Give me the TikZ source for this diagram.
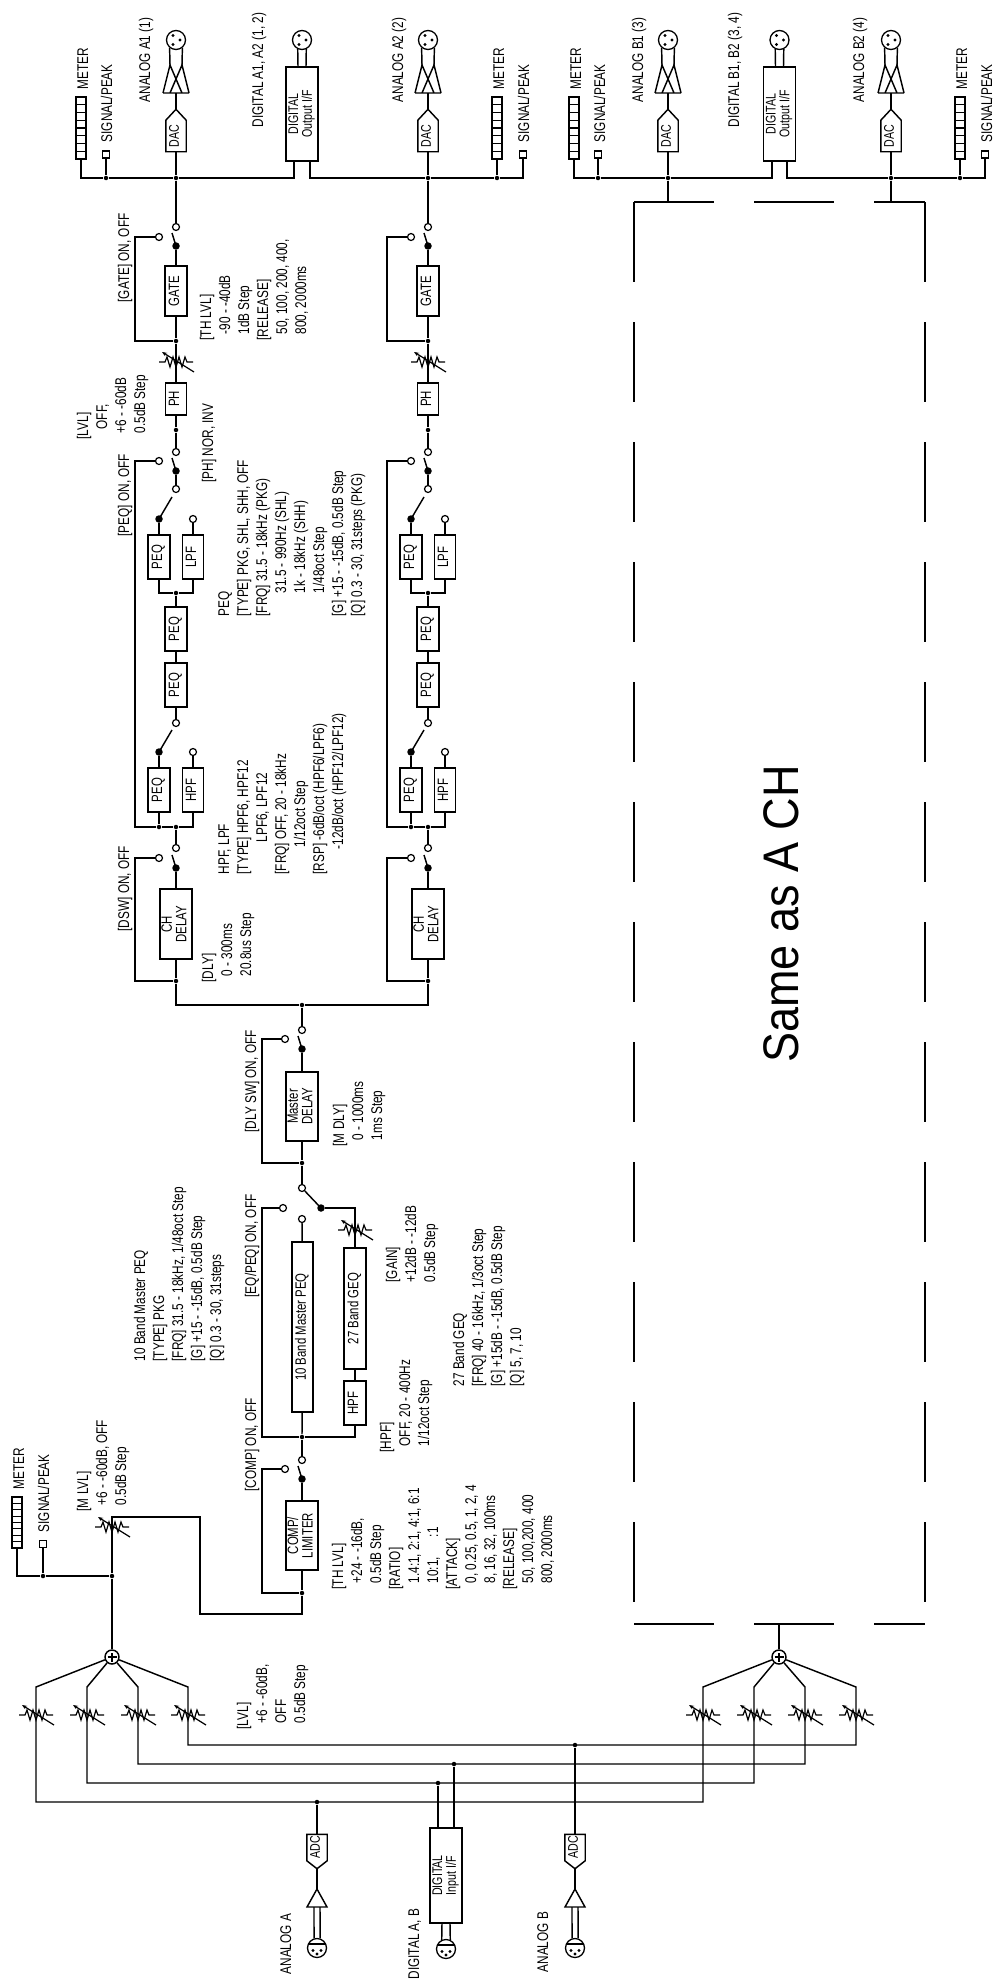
\documentclass[tikz,border=0pt]{standalone}
\usepackage{fontspec}
\usepackage{graphicx}
\setmainfont{Liberation Sans}[FakeStretch=0.76]
\newfontfamily\bigsans{Liberation Sans}[FakeStretch=0.9]
\usetikzlibrary{arrows.meta,calc}

\newcommand{\prmfont}{\fontsize{15.5}{19}\selectfont}
\newcommand{\boxfont}{\fontsize{15}{14}\selectfont}
\newcommand{\smfont}{\fontsize{14}{12}\selectfont}
\newcommand{\vtxt}[1]{\rotatebox{90}{\begin{tabular}{@{}l@{}}\relax#1\end{tabular}}}
\newcommand{\vlbl}[1]{\rotatebox{90}{\begin{tabular}{@{}c@{}}\relax#1\end{tabular}}}
\newcommand{\ind}{\hspace*{6pt}}

\tikzset{
  blk/.style={draw, fill=white, inner sep=0pt, font=\boxfont},
  prm/.style={inner sep=0pt, anchor=south west, font=\prmfont},
  opn/.style={circle, draw, fill=white, line width=1.2pt, inner sep=0pt, minimum size=7pt},
  piv/.style={circle, fill, inner sep=0pt, minimum size=7.5pt},
  jn/.style={circle, fill, inner sep=0pt, minimum size=4.5pt},
  sq/.style={draw, line width=1.2pt, inner sep=0pt, minimum size=7pt},
  mbar/.style={draw, line width=1.2pt, inner sep=0pt, minimum width=10pt,
    path picture={\foreach \i in {1,...,7}{\draw[line width=1.2pt]
      ($(path picture bounding box.north west)!\i/8!(path picture bounding box.south west)$) --
      ($(path picture bounding box.north east)!\i/8!(path picture bounding box.south east)$);}}},
  jack/.style={circle, draw, line width=1.3pt, inner sep=0pt, minimum size=19pt},
  sum/.style={circle, draw, fill=white, inner sep=0pt, minimum size=14pt},
  dsh/.style={dash pattern=on 80pt off 40pt},
  pics/fader/.style={code={
    \draw[line width=1.2pt] (-17,0) -- (-11,0) -- (-9,-5) -- (-6,5) -- (-3,-5) -- (0,5) -- (3,-5) -- (6,5) -- (9,-5) -- (11,0) -- (17,0);
    \draw[line width=1.2pt, -{Stealth[length=5pt,width=4pt]}] (18,10) -- (-14,-10);
  }},
}

\begin{document}
\begin{tikzpicture}[x=1pt, y=-1pt, line width=1.45pt]
\useasboundingbox (0,0) rectangle (997,1983);

% output stages
\foreach \cx/\cn in {176/c1, 428/c2, 668/b1, 891/b2}{
  \node[jack] (\cn-xlr) at (\cx,40) {};
  \fill ([shift={(-3,-4.5)}]\cn-xlr.center) circle (1.7) ([shift={(4,0)}]\cn-xlr.center) circle (1.7) ([shift={(-3,4.5)}]\cn-xlr.center) circle (1.7);
  \coordinate (\cn-amp) at (\cx,93);
  \draw (\cx-13,93) -- (\cx+13,93) (\cx-13,93) -- (\cx-6,65) -- (\cx+6,93) (\cx+13,93) -- (\cx+6,65) -- (\cx-6,93);
  \draw (\cn-xlr.-129) -- (\cx-6,65) (\cn-xlr.-51) -- (\cx+6,65);
  \node[blk, draw=none, minimum width=19pt, minimum height=30pt, font=\fontsize{14}{14}\selectfont] (\cn-dac) at (\cx,136) {\vlbl{DAC}};
  \draw (\cn-dac.south west) -- (\cn-dac.north west) -- ([yshift=11pt]\cn-dac.north) -- (\cn-dac.north east) -- (\cn-dac.south east) -- cycle;
  \draw ([yshift=11pt]\cn-dac.north) -- (\cn-amp);
  \node[jn] (\cn-jo) at (\cx,178) {};
  \draw (\cn-dac.south) -- (\cn-jo);
}

% A channel chains
\foreach \cx/\cn in {176/c1, 428/c2}{
  \node[opn] (\cn-go) at (\cx,227) {};
  \node[piv] (\cn-gp) at (\cx,246) {};
  \node[opn] (\cn-gb) at (\cx-17,237) {};
  \node[blk, minimum width=22pt, minimum height=50pt] (\cn-gate) at (\cx,291) {\vlbl{GATE}};
  \node[jn] (\cn-gj) at (\cx,341) {};
  \node[blk, minimum width=21pt, minimum height=32pt] (\cn-ph) at (\cx,399) {\vlbl{PH}};
  \node[jn] (\cn-phj) at (\cx,430) {};
  \node[opn] (\cn-po) at (\cx,452) {};
  \node[piv] (\cn-pp) at (\cx,471) {};
  \node[opn] (\cn-pb) at (\cx-17,461) {};
  \node[opn] (\cn-ls) at (\cx,489) {};
  \node[piv] (\cn-lsel) at (\cx-17,519) {};
  \node[opn] (\cn-lpfo) at (\cx+17,519) {};
  \node[blk, minimum width=22pt, minimum height=44pt] (\cn-peq4) at (\cx-17,557) {\vlbl{PEQ}};
  \node[blk, minimum width=21pt, minimum height=44pt] (\cn-lpf) at (\cx+17,557) {\vlbl{LPF}};
  \node[jn] (\cn-lj) at (\cx,593) {};
  \node[blk, minimum width=22pt, minimum height=44pt] (\cn-peq3) at (\cx,629) {\vlbl{PEQ}};
  \node[blk, minimum width=22pt, minimum height=44pt] (\cn-peq2) at (\cx,685) {\vlbl{PEQ}};
  \node[opn] (\cn-hs) at (\cx,723) {};
  \node[piv] (\cn-hsel) at (\cx-17,752) {};
  \node[opn] (\cn-hpfo) at (\cx+17,752) {};
  \node[blk, minimum width=22pt, minimum height=44pt] (\cn-peq1) at (\cx-17,790) {\vlbl{PEQ}};
  \node[blk, minimum width=21pt, minimum height=44pt] (\cn-hpf) at (\cx+17,790) {\vlbl{HPF}};
  \node[jn] (\cn-hj) at (\cx-17,827) {};
  \node[jn] (\cn-dj) at (\cx,827) {};
  \node[opn] (\cn-do) at (\cx,848) {};
  \node[piv] (\cn-dp) at (\cx,868) {};
  \node[opn] (\cn-db) at (\cx-17,858) {};
  \node[blk, minimum width=32pt, minimum height=70pt] (\cn-dly) at (\cx,924) {\vlbl{CH\\DELAY}};
  \node[jn] (\cn-dlj) at (\cx,981) {};
  % connectors
  \draw (\cn-jo) -- (\cn-go);
  \draw (\cn-gp.center) -- ++(-4,-13);
  \draw (\cn-gp) -- (\cn-gate);
  \draw (\cn-gb) -| ([xshift=-41pt]\cn-gj.center) -- (\cn-gj);
  \draw (\cn-gate) -- (\cn-gj) -- (\cn-ph);
  \pic at (\cx,362) {fader};
  \draw (\cn-ph) -- (\cn-phj) -- (\cn-po);
  \draw (\cn-pp.center) -- ++(-4,-13);
  \draw (\cn-pp) -- (\cn-ls);
  \draw (\cn-lsel.center) -- ++(13,-22);
  \draw (\cn-lsel) -- (\cn-peq4);
  \draw (\cn-lpfo) -- (\cn-lpf);
  \draw (\cn-peq4.south) |- (\cn-lj);
  \draw (\cn-lpf.south) |- (\cn-lj);
  \draw (\cn-lj) -- (\cn-peq3) -- (\cn-peq2) -- (\cn-hs);
  \draw (\cn-hsel.center) -- ++(13,-22);
  \draw (\cn-hsel) -- (\cn-peq1);
  \draw (\cn-hpfo) -- (\cn-hpf);
  \draw (\cn-peq1) -- (\cn-hj);
  \draw (\cn-hpf.south) |- (\cn-dj);
  \draw (\cn-pb) -| ([xshift=-24pt]\cn-hj.center) -- (\cn-hj) -- (\cn-dj) -- (\cn-do);
  \draw (\cn-dp.center) -- ++(-4,-13);
  \draw (\cn-dp) -- (\cn-dly) -- (\cn-dlj);
  \draw (\cn-db) -| ([xshift=-41pt]\cn-dlj.center) -- (\cn-dlj);
}

% A output bus
\node[mbar, minimum height=62pt] (aM1) at (81,128) {};
\node[sq] (aS1) at (106,154.5) {};
\node[jn] (aS1j) at (106,178) {};
\node[blk, minimum width=32pt, minimum height=94pt, font=\smfont] (aDig) at (302,114) {\vlbl{DIGITAL\\Output I/F}};
\node[jack] (aDx) at (302,40) {};
\node[jn] (aM2j) at (497,178) {};
\node[mbar, minimum height=62pt] (aM2) at (497,128) {};
\node[sq] (aS2) at (523,154.5) {};
\draw (aM1.south) |- (aS1j) -- (c1-jo) -| ([xshift=-8pt]aDig.south);
\draw (aS1) -- (aS1j);
\draw ([xshift=8pt]aDig.south) |- (c2-jo) -- (aM2j) -| (aS2.south);
\draw (aM2j) -- (aM2);
\draw ([xshift=-4pt]aDig.north) -- (aDx.-115) ([xshift=4pt]aDig.north) -- (aDx.-65);
\fill ([shift={(-3,-4.5)}]aDx.center) circle (1.7) ([shift={(4,0)}]aDx.center) circle (1.7) ([shift={(-3,4.5)}]aDx.center) circle (1.7);

% B output bus
\node[mbar, minimum height=62pt] (bM1) at (574,128) {};
\node[sq] (bS1) at (598,154.5) {};
\node[jn] (bS1j) at (598,178) {};
\node[blk, minimum width=32pt, minimum height=94pt, font=\smfont] (bDig) at (779.5,114) {\vlbl{DIGITAL\\Output I/F}};
\node[jack] (bDx) at (779.5,40) {};
\node[jn] (bM2j) at (960,178) {};
\node[mbar, minimum height=62pt] (bM2) at (960,128) {};
\node[sq] (bS2) at (985,154.5) {};
\draw (bM1.south) |- (bS1j) -- (b1-jo) -| ([xshift=-7.5pt]bDig.south);
\draw (bS1) -- (bS1j);
\draw ([xshift=7.5pt]bDig.south) |- (b2-jo) -- (bM2j) -| (bS2.south);
\draw (bM2j) -- (bM2);
\draw ([xshift=-4pt]bDig.north) -- (bDx.-115) ([xshift=4pt]bDig.north) -- (bDx.-65);
\fill ([shift={(-3,-4.5)}]bDx.center) circle (1.7) ([shift={(4,0)}]bDx.center) circle (1.7) ([shift={(-3,4.5)}]bDx.center) circle (1.7);

% B channel, same as A
\coordinate (bTL) at (634,202);
\coordinate (bTR) at (925,202);
\coordinate (bBL) at (634,1606);
\coordinate (bBR) at (925,1606);
\coordinate (bLL) at (634,1624);
\coordinate (bLR) at (925,1624);
\draw[dsh] (bTL) -- (bTR);
\draw[dsh] (bTL) -- (bBL);
\draw[dsh] (bTR) -- (bBR);
\draw[dsh] (bLL) -- (bLR);
\draw (b1-jo) -- (b1-jo |- bTL);
\draw (b2-jo) -- (b2-jo |- bTL);
\node[font=\bigsans\fontsize{50}{50}\selectfont, inner sep=0pt] (same) at (781,914) {\rotatebox{90}{Same as A CH}};

% master chain
\node[jn] (mj) at (302,1005) {};
\draw (c1-dlj) |- (mj);
\draw (c2-dlj) |- (mj);
\node[opn] (mdo) at (302,1030) {};
\node[piv] (mdp) at (302,1049) {};
\node[opn] (mdb) at (285,1039) {};
\node[blk, minimum width=32pt, minimum height=69pt] (mdly) at (302,1106.5) {\vlbl{Master\\DELAY}};
\node[jn] (mdj) at (302,1163) {};
\node[opn] (eqo) at (302,1188) {};
\node[piv] (eqp) at (321,1208) {};
\node[opn] (eqb) at (283,1208) {};
\node[opn] (peqo) at (302,1219) {};
\node[blk, minimum width=21pt, minimum height=170pt] (mpeq) at (302.5,1327) {\vlbl{10 Band Master PEQ}};
\node[blk, minimum width=22pt, minimum height=121pt] (geq) at (355,1308.5) {\vlbl{27 Band GEQ}};
\node[blk, minimum width=22pt, minimum height=44pt] (mhpf) at (355,1403) {\vlbl{HPF}};
\node[jn] (eqj) at (302,1437) {};
\node[opn] (co) at (302,1460) {};
\node[piv] (cp) at (302,1479) {};
\node[opn] (cb) at (285,1469) {};
\node[blk, minimum width=32pt, minimum height=69pt] (comp) at (302,1535.5) {\vlbl{COMP/\\LIMITER}};
\node[jn] (cj) at (302,1593) {};
\draw (mj) -- (mdo);
\draw (mdp.center) -- ++(-4,-13);
\draw (mdp) -- (mdly) -- (mdj) -- (eqo);
\draw (mdb) -| ([xshift=-40pt]mdj.center) -- (mdj);
\draw (eqp.center) -- (eqo);
\draw (eqp) -| (geq.north);
\pic at (355,1230) {fader};
\draw (peqo) -- (mpeq) -- (eqj);
\draw (geq) -- (mhpf);
\draw (mhpf.south) |- (eqj);
\draw (eqb) -| ([xshift=-40pt]eqj.center) -- (eqj);
\draw (eqj) -- (co);
\draw (cp.center) -- ++(-4,-13);
\draw (cp) -- (comp) -- (cj);
\draw (cb) -| ([xshift=-40pt]cj.center) -- (cj);

% master level and meter
\coordinate (r1) at (200,1614);
\coordinate (r2) at (112,1517);
\node[mbar, minimum height=51pt] (mM) at (17,1522.5) {};
\node[sq] (mS) at (43,1544) {};
\node[jn] (mSj) at (43,1576) {};
\node[jn] (mlj) at (112,1576) {};
\draw (cj) |- (r1) |- (r2) -- (mlj);
\pic at (112,1527) {fader};
\draw (mM.south) |- (mSj) -- (mlj);
\draw (mS) -- (mSj);

% mixers
\node[sum] (sumA) at (112,1657) {};
\node[sum] (sumB) at (779,1657) {};
\draw ([xshift=-4.5pt]sumA.center) -- ([xshift=4.5pt]sumA.center) ([yshift=-4.5pt]sumA.center) -- ([yshift=4.5pt]sumA.center);
\draw ([xshift=-4.5pt]sumB.center) -- ([xshift=4.5pt]sumB.center) ([yshift=-4.5pt]sumB.center) -- ([yshift=4.5pt]sumB.center);
\draw (mlj) -- (sumA);
\draw (sumB) -- (sumB |- bLL);
\foreach \k/\xa/\xb/\yy in {1/36/703/1802, 2/87/754/1783, 3/138/805/1764, 4/188/856/1745}{
  \coordinate (ta\k) at (\xa,1687);
  \coordinate (tb\k) at (\xb,1687);
  \coordinate (la\k) at (\xa,\yy);
  \coordinate (lb\k) at (\xb,\yy);
  \draw (sumA) -- (ta\k) -- (la\k) -- (lb\k) -- (tb\k) -- (sumB);
  \pic at (\xa,1715) {fader};
  \pic at (\xb,1715) {fader};
}

% inputs
\foreach \ix/\ip/\iy in {317/iA/1802, 575/iB/1745}{
  \node[jn] (\ip-j) at (\ix,\iy) {};
  \node[blk, draw=none, minimum width=19pt, minimum height=25pt, font=\fontsize{14}{14}\selectfont] (\ip-adc) at (\ix,1847.5) {\vlbl{ADC}};
  \draw (\ip-adc.north west) -- (\ip-adc.north east) -- (\ip-adc.south east) -- ([yshift=-8pt]\ip-adc.south) -- (\ip-adc.south west) -- cycle;
  \coordinate (\ip-tr) at (\ix,1889);
  \draw (\ip-j) -- (\ip-adc);
  \draw ([yshift=-8pt]\ip-adc.south) -- (\ip-tr);
  \draw (\ip-tr) -- ([shift={(10,18)}]\ip-tr) -- ([shift={(-10,18)}]\ip-tr) -- cycle;
  \node[jack] (\ip-xlr) at (\ix,1948) {};
  \draw ([shift={(-3,18)}]\ip-tr) -- (\ip-xlr.107.5) ([shift={(3,18)}]\ip-tr) -- (\ip-xlr.72.5);
  \draw[line width=1.2pt] ([shift={(-8.6,-4)}]\ip-xlr.center) -- ([shift={(8.6,-4)}]\ip-xlr.center);
  \fill ([shift={(-4,2.5)}]\ip-xlr.center) circle (1.6) ([shift={(4,2.5)}]\ip-xlr.center) circle (1.6) ([shift={(0,6)}]\ip-xlr.center) circle (1.6);
}
\node[blk, minimum width=32pt, minimum height=95pt, font=\smfont] (digIn) at (446,1875.5) {\vlbl{DIGITAL\\Input I/F}};
\node[jn] (dA) at (438,1783) {};
\node[jn] (dB) at (454,1764) {};
\draw (dA) -- (dA |- digIn.north);
\draw (dB) -- (dB |- digIn.north);
\node[jack] (dIx) at (446,1949) {};
\draw ([xshift=-4pt]digIn.south) -- (dIx.115) ([xshift=4pt]digIn.south) -- (dIx.65);
\draw[line width=1.2pt] ([shift={(-8.6,-4)}]dIx.center) -- ([shift={(8.6,-4)}]dIx.center);
\fill ([shift={(-4,2.5)}]dIx.center) circle (1.6) ([shift={(4,2.5)}]dIx.center) circle (1.6) ([shift={(0,6)}]dIx.center) circle (1.6);

% labels
\node[prm] (tMetA1) at (74,90) {\vtxt{METER}};
\node[prm] (tSigA1) at (98,143) {\vtxt{SIGNAL/PEAK}};
\node[prm] (tMetA2) at (490,90) {\vtxt{METER}};
\node[prm] (tSigA2) at (515,143) {\vtxt{SIGNAL/PEAK}};
\node[prm] (tMetB1) at (567,90) {\vtxt{METER}};
\node[prm] (tSigB1) at (591,143) {\vtxt{SIGNAL/PEAK}};
\node[prm] (tMetB2) at (953,90) {\vtxt{METER}};
\node[prm] (tSigB2) at (978,143) {\vtxt{SIGNAL/PEAK}};
\node[prm] (tOutA1) at (136,103) {\vtxt{ANALOG A1 (1)}};
\node[prm] (tOutDA) at (249,128) {\vtxt{DIGITAL A1, A2 (1, 2)}};
\node[prm] (tOutA2) at (389,103) {\vtxt{ANALOG A2 (2)}};
\node[prm] (tOutB1) at (629,103) {\vtxt{ANALOG B1 (3)}};
\node[prm] (tOutDB) at (725,128) {\vtxt{DIGITAL B1, B2 (3, 4)}};
\node[prm] (tOutB2) at (850,103) {\vtxt{ANALOG B2 (4)}};
\node[prm] (tGsw) at (115,303) {\vtxt{[GATE] ON, OFF}};
\node[prm] (tPsw) at (115,537) {\vtxt{[PEQ] ON, OFF}};
\node[prm] (tDsw) at (115,932) {\vtxt{[DSW] ON, OFF}};
\node[prm] (tPh) at (199,483) {\vtxt{[PH] NOR, INV}};
\node[prm] (tMdsw) at (242,1133) {\vtxt{[DLY SW] ON, OFF}};
\node[prm] (tEqsw) at (242,1298) {\vtxt{[EQ/PEQ] ON, OFF}};
\node[prm] (tCsw) at (242,1492) {\vtxt{[COMP] ON, OFF}};
\node[prm] (tLvl) at (74,440) {\vtxt{[LVL]\\\hspace*{10pt}OFF,\\\ind +6 - -60dB\\\ind 0.5dB Step}};
\node[prm] (tGate) at (197,341) {\vtxt{[TH LVL]\\\ind -90 - -40dB\\\ind 1dB Step\\{}[RELEASE]\\\ind 50, 100, 200, 400,\\\ind 800, 2000ms}};
\node[prm] (tPeq) at (215,617) {\vtxt{PEQ\\{}[TYPE] PKG, SHL, SHH, OFF\\{}[FRQ] 31.5 - 18kHz (PKG)\\\hspace*{23pt}31.5 - 990Hz (SHL)\\\hspace*{23pt}1k - 18kHz (SHH)\\\hspace*{23pt}1/48oct Step\\{}[G] +15 - -15dB, 0.5dB Step\\{}[Q] 0.3 - 30, 31steps (PKG)}};
\node[prm] (tHpf) at (215,875) {\vtxt{HPF, LPF\\{}[TYPE] HPF6, HPF12\\\hspace*{32pt}LPF6, LPF12\\{}[FRQ] OFF, 20 - 18kHz\\\hspace*{27pt}1/12oct Step\\{}[RSP] -6dB/oct (HPF6/LPF6)\\\hspace*{25pt}-12dB/oct (HPF12/LPF12)}};
\node[prm] (tDly) at (199,983) {\vtxt{[DLY]\\\ind 0 - 300ms\\\ind 20.8us Step}};
\node[prm] (tMdly) at (330,1147) {\vtxt{[M DLY]\\\ind 0 - 1000ms\\\ind 1ms Step}};
\node[prm] (tMpeq) at (131,1362) {\vtxt{10 Band Master PEQ\\{}[TYPE] PKG\\{}[FRQ] 31.5 - 18kHz, 1/48oct Step\\{}[G] +15 - -15dB, 0.5dB Step\\{}[Q] 0.3 - 30, 31steps}};
\node[prm] (tGain) at (383,1283) {\vtxt{[GAIN]\\+12dB - -12dB\\0.5dB Step}};
\node[prm] (tMhpf) at (377,1453) {\vtxt{[HPF]\\\ind OFF, 20 - 400Hz\\\ind 1/12oct Step}};
\node[prm] (tGeq) at (450,1387) {\vtxt{27 Band GEQ\\{}[FRQ] 40 - 16kHz, 1/3oct Step\\{}[G] +15dB - -15dB, 0.5dB Step\\{}[Q] 5, 7, 10}};
\node[prm] (tComp) at (329,1590) {\vtxt{[TH LVL]\\\ind +24 - -16dB,\\\ind 0.5dB Step\\{}[RATIO]\\\ind 1.4:1, 2:1, 4:1, 6:1\\\ind 10:1,\hspace{20pt}:1\\{}[ATTACK]\\\ind 0, 0.25, 0.5, 1, 2, 4\\\ind 8, 16, 32, 100ms\\{}[RELEASE]\\\ind 50, 100,200, 400\\\ind 800, 2000ms}};
\node[prm] (tMlvl) at (74,1512) {\vtxt{[M LVL]\\\ind +6 - -60dB, OFF\\\ind 0.5dB Step}};
\node[prm] (tMetM) at (10,1490) {\vtxt{METER}};
\node[prm] (tSigM) at (35,1533) {\vtxt{SIGNAL/PEAK}};
\node[prm] (tLvlIn) at (234,1730) {\vtxt{[LVL]\\\ind +6 - -60dB,\\\ind OFF\\\ind 0.5dB Step}};
\node[prm] (tInA) at (277,1975) {\vtxt{ANALOG A}};
\node[prm] (tInD) at (405,1980) {\vtxt{DIGITAL A, B}};
\node[prm] (tInB) at (534,1973) {\vtxt{ANALOG B}};
\end{tikzpicture}
\end{document}
